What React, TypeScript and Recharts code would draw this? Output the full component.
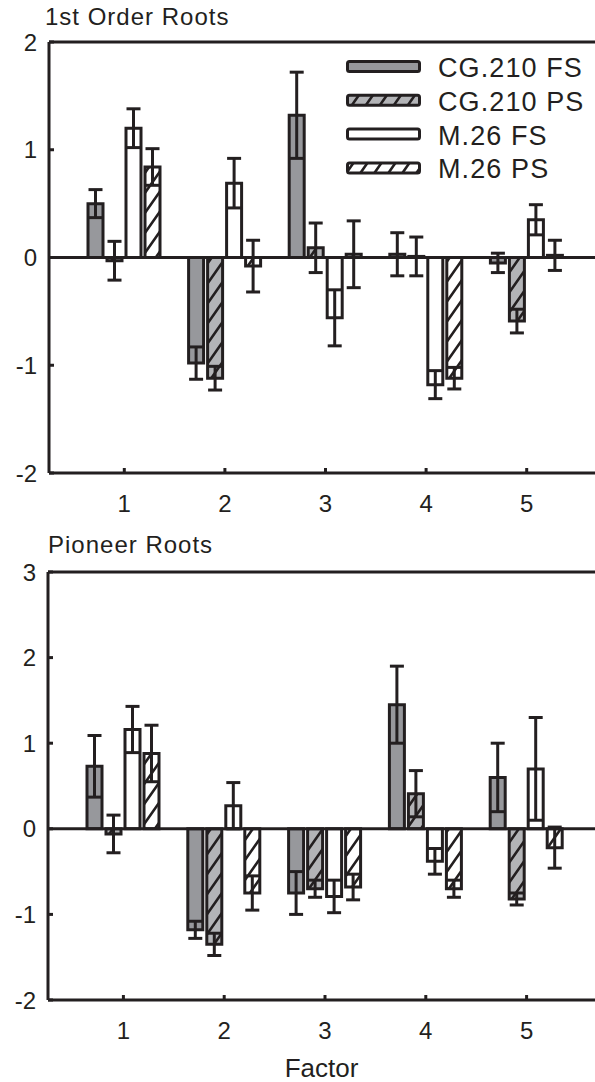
import React from "react"
import { Bar, BarChart, ErrorBar, Legend, ReferenceLine, XAxis, YAxis } from "recharts"

const factors = ["1", "2", "3", "4", "5"]

// 1st order roots (mean, error)
const firstCgFs = [0.5, -0.98, 1.32, 0.03, -0.05]
const firstCgFsErr = [0.13, 0.15, 0.4, 0.2, 0.09]
const firstCgPs = [-0.03, -1.12, 0.09, 0.01, -0.59]
const firstCgPsErr = [0.18, 0.11, 0.23, 0.18, 0.11]
const firstM26Fs = [1.2, 0.69, -0.56, -1.18, 0.35]
const firstM26FsErr = [0.18, 0.23, 0.26, 0.13, 0.14]
const firstM26Ps = [0.84, -0.08, 0.03, -1.12, 0.02]
const firstM26PsErr = [0.17, 0.24, 0.31, 0.1, 0.14]

// pioneer roots (mean, error)
const pioCgFs = [0.73, -1.18, -0.75, 1.45, 0.6]
const pioCgFsErr = [0.36, 0.1, 0.25, 0.45, 0.4]
const pioCgPs = [-0.06, -1.35, -0.7, 0.41, -0.82]
const pioCgPsErr = [0.22, 0.13, 0.1, 0.27, 0.07]
const pioM26Fs = [1.16, 0.27, -0.79, -0.38, 0.7]
const pioM26FsErr = [0.27, 0.27, 0.19, 0.15, 0.6]
const pioM26Ps = [0.88, -0.75, -0.68, -0.7, -0.22]
const pioM26PsErr = [0.33, 0.2, 0.15, 0.1, 0.24]

const firstTicks = [-2, -1, 0, 1, 2]
const pioTicks = [-2, -1, 0, 1, 2, 3]

const INK = "#231f20"
const GRAY = "#97989c"
const LIGHT_GRAY = "#b3b4b7"
const FONT = "'Liberation Sans', Arial, Helvetica, sans-serif"

const SERIES = [
    { key: "cgFs", name: "CG.210 FS", fill: GRAY },
    { key: "cgPs", name: "CG.210 PS", fill: "url(#hatchGray)" },
    { key: "m26Fs", name: "M.26 FS", fill: "#ffffff" },
    { key: "m26Ps", name: "M.26 PS", fill: "url(#hatchWhite)" },
]

const buildData = (
    cgFs: number[], cgFsErr: number[],
    cgPs: number[], cgPsErr: number[],
    m26Fs: number[], m26FsErr: number[],
    m26Ps: number[], m26PsErr: number[],
) =>
    factors.map((f, i) => ({
        factor: f,
        cgFs: cgFs[i], cgFsErr: cgFsErr[i],
        cgPs: cgPs[i], cgPsErr: cgPsErr[i],
        m26Fs: m26Fs[i], m26FsErr: m26FsErr[i],
        m26Ps: m26Ps[i], m26PsErr: m26PsErr[i],
    }))

const firstData = buildData(firstCgFs, firstCgFsErr, firstCgPs, firstCgPsErr, firstM26Fs, firstM26FsErr, firstM26Ps, firstM26PsErr)
const pioData = buildData(pioCgFs, pioCgFsErr, pioCgPs, pioCgPsErr, pioM26Fs, pioM26FsErr, pioM26Ps, pioM26PsErr)

const Patterns = () => (
    <svg width={0} height={0} style={{ position: "absolute" }}>
        <defs>
            <pattern id="hatchGray" patternUnits="userSpaceOnUse" width={14} height={20}>
                <rect width={14} height={20} fill={LIGHT_GRAY} />
                <path d="M0,20 L14,0 M-7,10 L7,-10 M7,30 L21,10" stroke={INK} strokeWidth={2.6} />
            </pattern>
            <pattern id="hatchWhite" patternUnits="userSpaceOnUse" width={14} height={20}>
                <rect width={14} height={20} fill="#ffffff" />
                <path d="M0,20 L14,0 M-7,10 L7,-10 M7,30 L21,10" stroke={INK} strokeWidth={2.6} />
            </pattern>
        </defs>
    </svg>
)

// legend drawn by hand so the wide swatches match the original
const LegendBox = () => (
    <svg width={255} height={140}>
        {SERIES.map((s, i) => {
            const yc = 21.5 + i * 33.8
            return (
                <g key={s.key}>
                    <rect x={9.5} y={yc - 5} width={72} height={10} rx={2} fill={s.fill} stroke={INK} strokeWidth={3} />
                    <text x={100} y={yc + 10.5} fontSize={27} letterSpacing={1.1} fill={INK} fontFamily={FONT}>
                        {s.name}
                    </text>
                </g>
            )
        })}
    </svg>
)

interface PanelProps {
    title: string
    data: ReturnType<typeof buildData>
    ticks: number[]
    top: number
    height: number
    axisWidth: number
    axisHeight: number
    titleLeft: number
    titleTop: number
    withLegend?: boolean
    withFactor?: boolean
}

const Panel = ({ title, data, ticks, top, height, axisWidth, axisHeight, titleLeft, titleTop, withLegend, withFactor }: PanelProps) => (
    <div style={{ position: "absolute", left: 0, top, width: 595, height }}>
        <div
            style={{
                position: "absolute",
                left: titleLeft,
                top: titleTop,
                fontSize: 24,
                lineHeight: "24px",
                letterSpacing: 1,
                color: INK,
                whiteSpace: "nowrap",
                zIndex: 2,
            }}
        >
            {title}
        </div>
        <BarChart
            width={595}
            height={height}
            data={data}
            margin={{ top: 42, right: 0, bottom: 0, left: 0 }}
            barSize={15}
            barGap={4}
        >
            <XAxis
                dataKey="factor"
                height={axisHeight}
                padding={{ left: 25, right: 18 }}
                interval={0}
                tickSize={-5}
                tickMargin={27}
                tick={{ fontSize: 24, fill: INK }}
                tickLine={{ stroke: INK, strokeWidth: 3 }}
                axisLine={{ stroke: INK, strokeWidth: 3 }}
                label={
                    withFactor
                        ? { value: "Factor", position: "insideBottom", offset: 5, fontSize: 26, fill: INK }
                        : undefined
                }
            />
            <YAxis
                type="number"
                width={axisWidth}
                domain={[ticks[0], ticks[ticks.length - 1]]}
                ticks={ticks}
                interval={0}
                tickSize={-5}
                tickMargin={17}
                tick={{ fontSize: 24, fill: INK }}
                tickLine={{ stroke: INK, strokeWidth: 3 }}
                axisLine={{ stroke: INK, strokeWidth: 3 }}
            />
            <ReferenceLine y={ticks[ticks.length - 1]} stroke={INK} strokeWidth={3} />
            {SERIES.map((s) => (
                <Bar key={s.key} dataKey={s.key} name={s.name} fill={s.fill} stroke={INK} strokeWidth={3} isAnimationActive={false}>
                    <ErrorBar dataKey={`${s.key}Err`} direction="y" width={7} stroke={INK} strokeWidth={3} />
                </Bar>
            ))}
            <ReferenceLine y={0} stroke={INK} strokeWidth={3} />
            {withLegend && (
                <Legend
                    layout="vertical"
                    align="center"
                    verticalAlign="middle"
                    wrapperStyle={{ left: 338, top: 45, width: 257, height: 140 }}
                    content={() => <LegendBox />}
                />
            )}
        </BarChart>
    </div>
)

export default function App() {
    return (
        <div
            style={{
                position: "absolute",
                left: 0,
                top: 0,
                width: 595,
                height: 1082,
                background: "#ffffff",
                fontFamily: FONT,
                overflow: "hidden",
            }}
        >
            <Patterns />
            <Panel
                title="1st Order Roots"
                data={firstData}
                ticks={firstTicks}
                top={0}
                height={530}
                axisWidth={49}
                axisHeight={57}
                titleLeft={45}
                titleTop={5}
                withLegend
            />
            <Panel
                title="Pioneer Roots"
                data={pioData}
                ticks={pioTicks}
                top={530}
                height={552}
                axisWidth={48}
                axisHeight={82}
                titleLeft={48}
                titleTop={3}
                withFactor
            />
        </div>
    )
}
